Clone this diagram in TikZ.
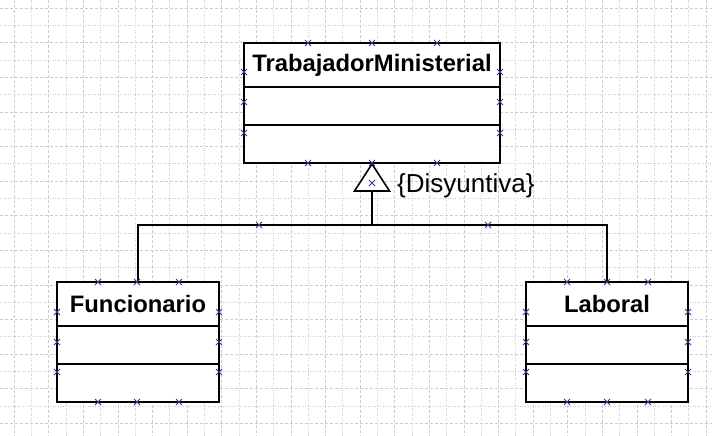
\documentclass[tikz,border=0pt]{standalone}
\usepackage{fontspec}
\setmainfont{Liberation Sans}
\begin{document}
\begin{tikzpicture}[x=1pt,y=-1pt,
  gridA/.style={gray!40,line width=0.6pt,dash pattern=on 3pt off 2pt},
  gridB/.style={gray!40,line width=0.6pt,dash pattern=on 1pt off 1.5pt},
  classbox/.style={draw=black,line width=2pt,fill=white,rectangle,minimum width=162pt,minimum height=120pt,inner sep=0pt},
  classname/.style={font=\fontsize{23.8}{26}\selectfont\bfseries,inner sep=0pt},
  conn/.style={draw=black,line width=1.3pt},
  handle/.style={draw=black!45!blue!55!gray,line width=1pt}]
\useasboundingbox (0,0) rectangle (712,436);
\fill[white] (0,0) rectangle (712,436);
% grid
\foreach \k in {0,...,40}{
  \pgfmathsetmacro{\xx}{14+17.3*\k}
  \pgfmathtruncatemacro{\parity}{mod(\k,2)}
  \ifnum\parity=0 \draw[gridA] (\xx,0) -- (\xx,436); \else \draw[gridB] (\xx,0) -- (\xx,436); \fi
}
\foreach \k in {0,...,24}{
  \pgfmathsetmacro{\yy}{8+17.3*\k}
  \pgfmathtruncatemacro{\parity}{mod(\k,2)}
  \ifnum\parity=0 \draw[gridA] (0,\yy) -- (712,\yy); \else \draw[gridB] (0,\yy) -- (712,\yy); \fi
}
% classes
\node[classbox,minimum width=256pt] (tm) at (372,103) {};
\node[classname] (tmname) at (372,65) {TrabajadorMinisterial};
\draw[line width=2pt] (244,87) -- (500,87) (244,125) -- (500,125);

\node[classbox] (fun) at (138,342) {};
\node[classname] (funname) at (138,304) {Funcionario};
\draw[line width=2pt] (57,326) -- (219,326) (57,364) -- (219,364);

\node[classbox] (lab) at (607,342) {};
\node[classname] (labname) at (607,304) {Laboral};
\draw[line width=2pt] (526,326) -- (688,326) (526,364) -- (688,364);

% generalization
\coordinate (apex) at (tm.south);
\coordinate (tri) at (372,191);
\coordinate (j) at (372,225);
\draw[line width=1.6pt,fill=white,line join=miter] (apex) -- (389.5,191) -- (354.5,191) -- cycle;
\draw[conn] (tri) -- (j);
\draw[conn] (fun.north) |- (j) -| (lab.north);
\node[font=\fontsize{26}{29}\selectfont,anchor=west,inner sep=0pt] (disy) at (397,186) {\{Disyuntiva\}};

% handles
\foreach \p in {(308,43),(372,43),(437,43),(244,72),(244,102),(244,133),(500,72),(500,102),(500,133),(308,163),(372,163),(437,163),
  (372,183),(259,225),(488,225),
  (98,282),(137,282),(179,282),(57,312),(57,342),(57,372),(219,312),(219,342),(219,372),(98,402),(137,402),(179,402),
  (567,282),(607,282),(648,282),(526,312),(526,342),(526,372),(688,312),(688,342),(688,372),(567,402),(607,402),(648,402)}{
  \draw[handle] \p ++(-3,-3) -- ++(6,6) \p ++(-3,3) -- ++(6,-6);
}
\end{tikzpicture}
\end{document}
